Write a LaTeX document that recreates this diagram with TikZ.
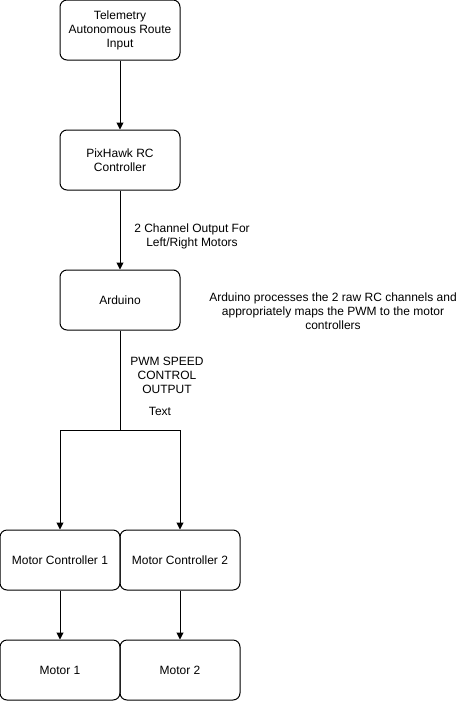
\documentclass[tikz,border=0pt]{standalone}
\usepackage{fontspec}
\setmainfont{Liberation Sans}
\usetikzlibrary{arrows.meta,positioning,calc}
\tikzset{post/.style={-{Triangle[length=7pt,width=7pt]}, line width=1pt},
         block/.style={rectangle, rounded corners=7pt, draw, line width=1pt,
                       minimum width=120pt, minimum height=60pt, inner sep=2pt,
                       align=center, font=\fontsize{12}{14}\selectfont},
         note/.style={align=center, font=\fontsize{12}{14}\selectfont, inner sep=0pt}
}

\begin{document}
\begin{tikzpicture}[x=1pt,y=-1pt]
    \useasboundingbox (0,0) rectangle (467,702);
            %       tele
            %       pix
            %       ard       (note)
            %   mc1   mc2
            %   m1    m2
        \node[block] (tele) at (120,30)  {Telemetry\\Autonomous Route\\Input};
        \node[block] (pix)  at (120,160) {PixHawk RC\\Controller};
        \node[block] (ard)  at (120,300) {Arduino};
        \node[block] (mc1)  at (60,560)  {Motor Controller 1};
        \node[block] (mc2)  at (180,560) {Motor Controller 2};
        \node[block] (m1)   at (60,670)  {Motor 1};
        \node[block] (m2)   at (180,670) {Motor 2};
        \coordinate (split) at (120,430);
        % labels
        \node[note] (chan) at (192,236) {2 Channel Output For\\Left/Right Motors};
        \node[note] (proc) at (333,311) {Arduino processes the 2 raw RC channels and\\appropriately maps the PWM to the motor\\controllers};
        \node[note] (pwm)  at (167,375) {PWM SPEED\\CONTROL\\OUTPUT};
        \node[note] (txt)  at (160,411) {Text};
        % connectors
        \path[post] (tele) edge (pix)
                    (pix)  edge (ard)
                    (mc1)  edge (m1)
                    (mc2)  edge (m2);
        \draw[line width=1pt] (ard.south) -- (split);
        \draw[post] (split) -| (mc1.north);
        \draw[post] (split) -| (mc2.north);
\end{tikzpicture}
\end{document}
